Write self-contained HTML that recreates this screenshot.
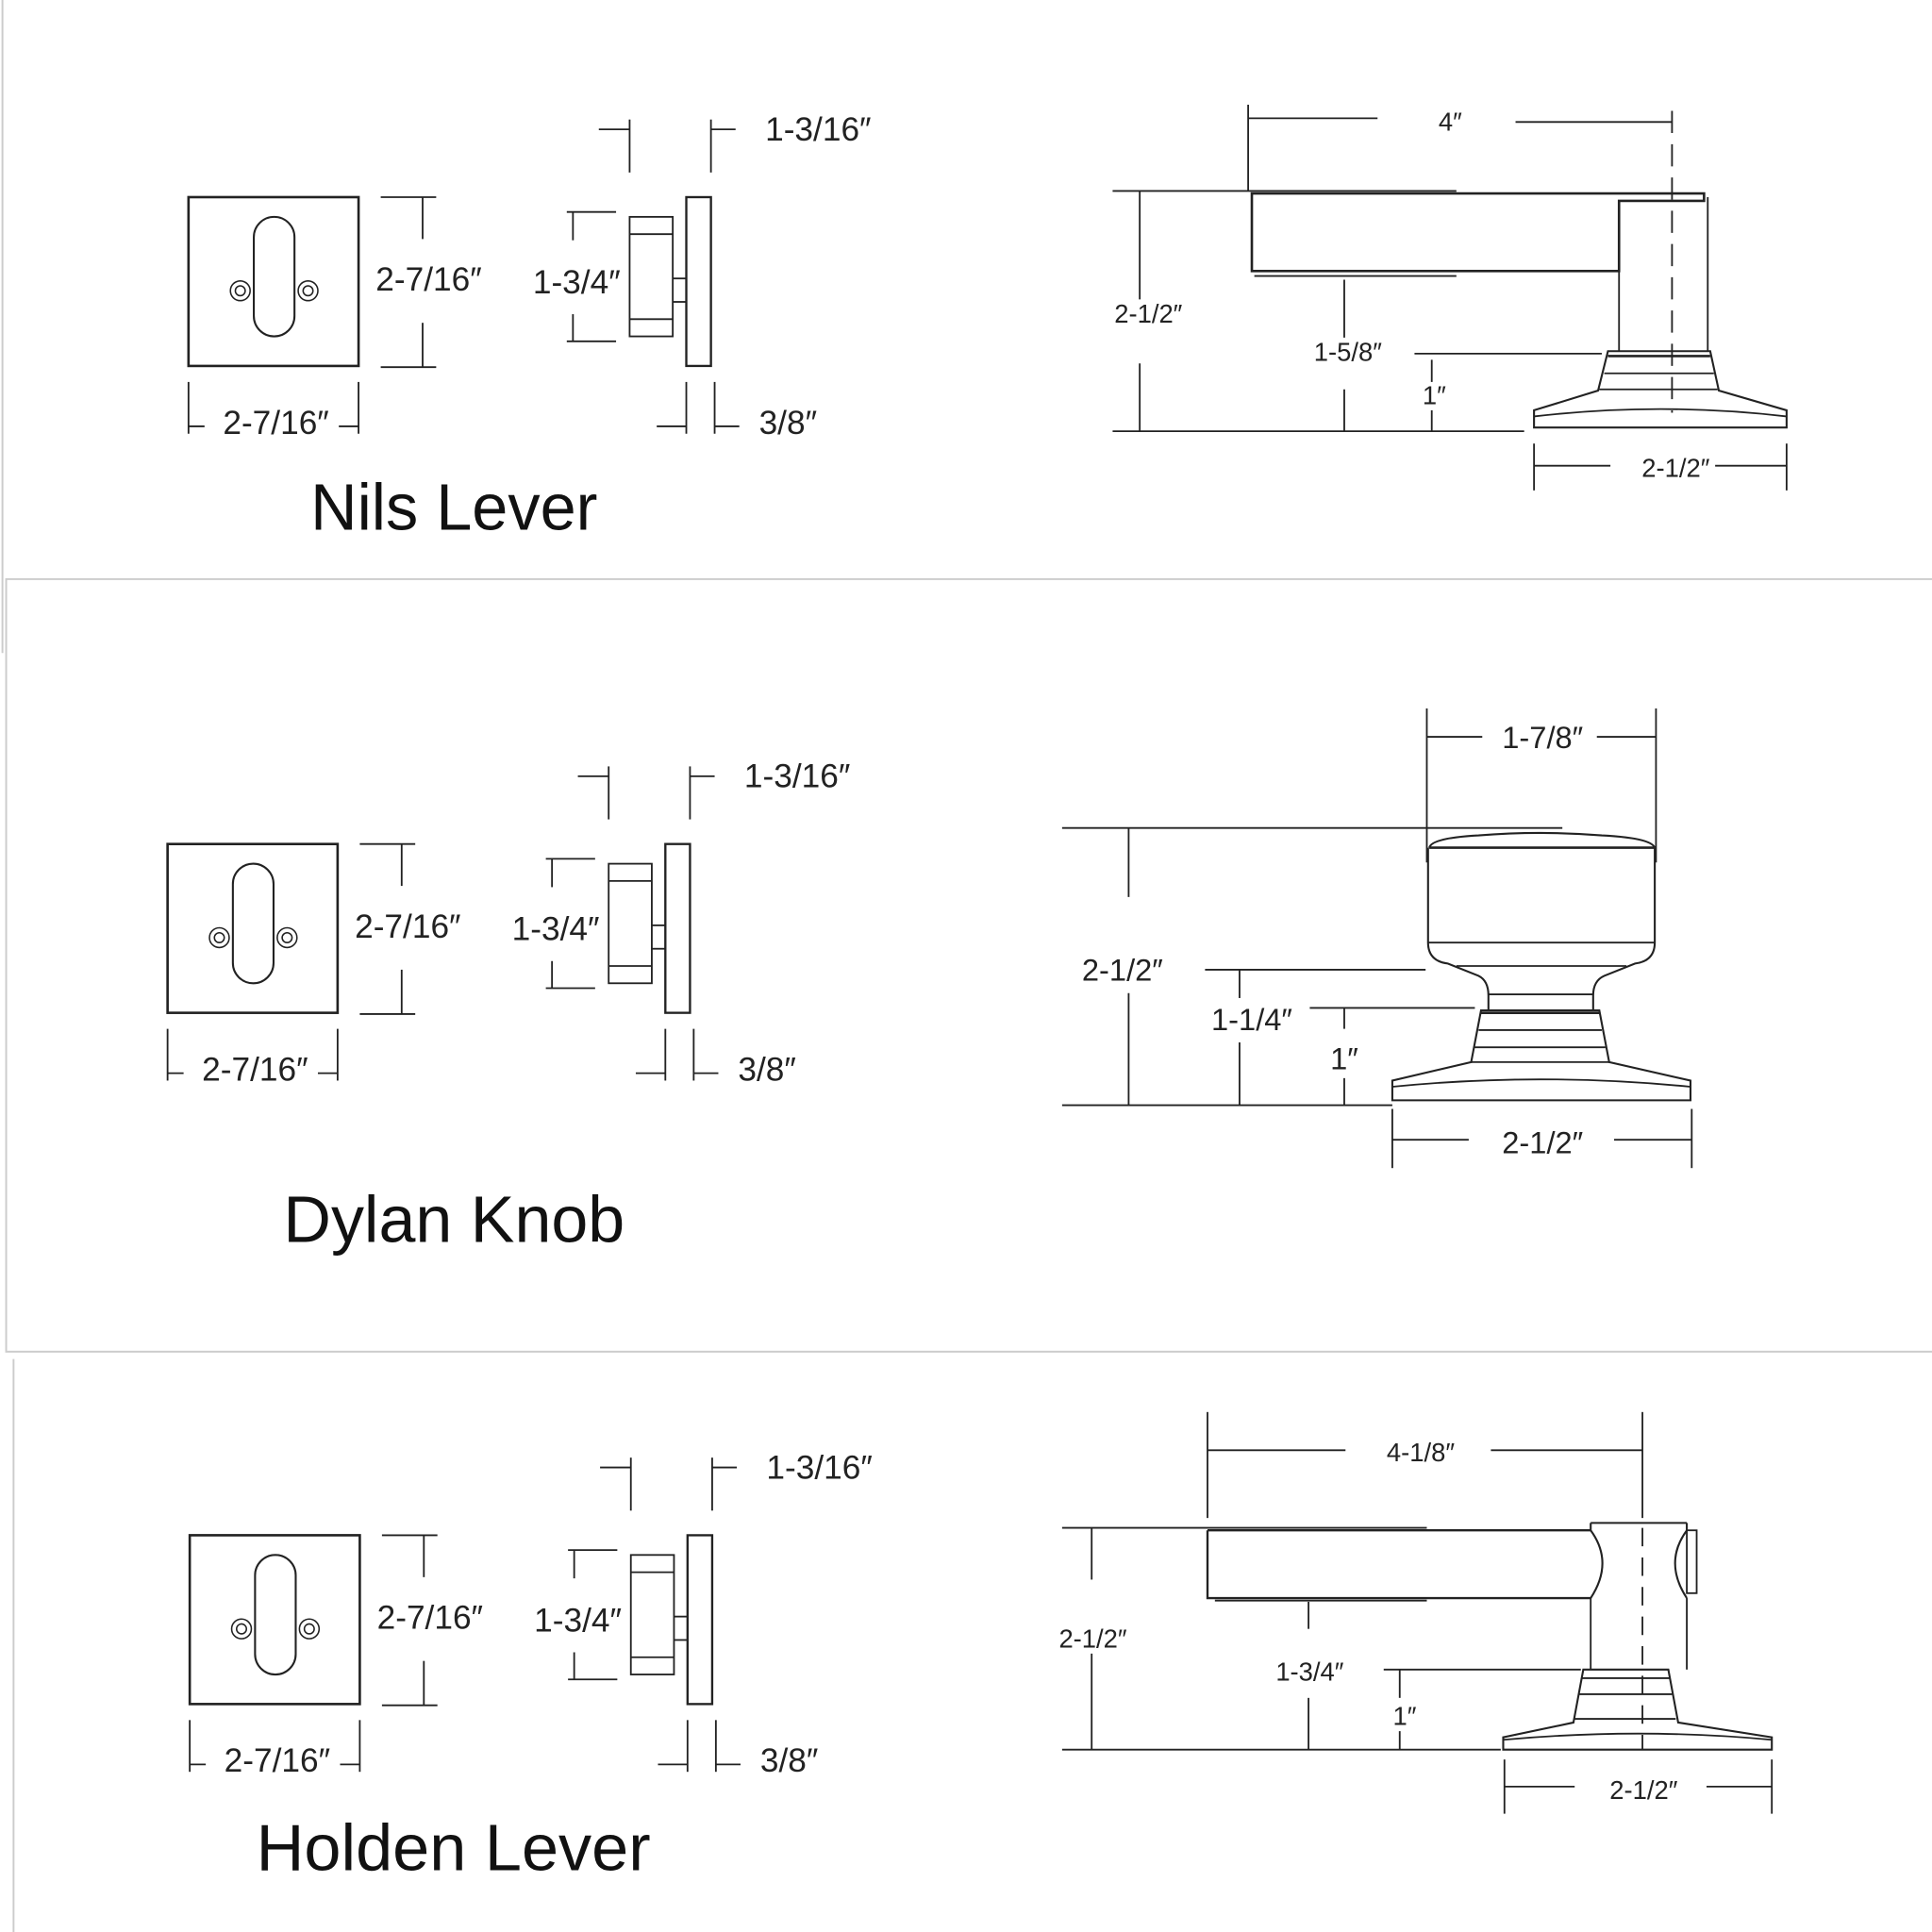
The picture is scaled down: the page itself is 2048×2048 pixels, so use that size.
<!DOCTYPE html>
<html><head><meta charset="utf-8"><style>
html,body{margin:0;padding:0;background:#fff;}
svg{display:block;}
text{font-family:"Liberation Sans Narrow","Liberation Sans",sans-serif;fill:#222;}
.t{font-family:"Liberation Sans",sans-serif;fill:#111;}
</style></head><body>
<svg width="2048" height="2048" viewBox="0 0 1568 1568" xmlns="http://www.w3.org/2000/svg">
<defs>
<g id="bp" fill="none" stroke="#222" stroke-width="1.6">
  <rect x="153" y="160" width="138" height="137" stroke-width="2"/>
  <rect x="206" y="176" width="33" height="97" rx="16.5"/>
  <circle cx="195" cy="236" r="8" stroke-width="1.2"/><circle cx="195" cy="236" r="4" stroke-width="1.2"/>
  <circle cx="250" cy="236" r="8" stroke-width="1.2"/><circle cx="250" cy="236" r="4" stroke-width="1.2"/>
  <g stroke-width="1.4">
  <line x1="309" y1="160" x2="354" y2="160"/><line x1="309" y1="298" x2="354" y2="298"/>
  <line x1="343" y1="160" x2="343" y2="194"/><line x1="343" y1="262" x2="343" y2="298"/>
  <line x1="153" y1="310" x2="153" y2="352"/><line x1="291" y1="310" x2="291" y2="352"/>
  <line x1="153" y1="346" x2="166" y2="346"/><line x1="275" y1="346" x2="291" y2="346"/>
  <rect x="557" y="160" width="20" height="137" stroke-width="1.8"/>
  <rect x="511" y="176" width="35" height="97"/>
  <line x1="511" y1="190" x2="546" y2="190"/><line x1="511" y1="259" x2="546" y2="259"/>
  <line x1="546" y1="226" x2="557" y2="226"/><line x1="546" y1="245" x2="557" y2="245"/>
  <line x1="511" y1="97" x2="511" y2="140"/><line x1="486" y1="105" x2="511" y2="105"/>
  <line x1="577" y1="97" x2="577" y2="140"/><line x1="577" y1="105" x2="597" y2="105"/>
  <line x1="465" y1="172" x2="465" y2="195"/><line x1="465" y1="255" x2="465" y2="277"/>
  <line x1="460" y1="172" x2="500" y2="172"/><line x1="460" y1="277" x2="500" y2="277"/>
  <line x1="557" y1="310" x2="557" y2="352"/><line x1="580" y1="310" x2="580" y2="352"/>
  <line x1="533" y1="346" x2="557" y2="346"/><line x1="580" y1="346" x2="600" y2="346"/>
  </g>
  <text x="348" y="236" font-size="27" text-anchor="middle" stroke="none">2-7/16″</text>
  <text x="224" y="352" font-size="27" text-anchor="middle" stroke="none">2-7/16″</text>
  <text x="468" y="238" font-size="27" text-anchor="middle" stroke="none">1-3/4″</text>
  <text x="621" y="114" font-size="27" stroke="none">1-3/16″</text>
  <text x="616" y="352" font-size="27" stroke="none">3/8″</text>
</g>
</defs>
<g fill="none" stroke="#ccc" stroke-width="1.5">
  <line x1="2" y1="0" x2="2" y2="530"/>
  <rect x="5" y="470" width="1570" height="627"/>
  <line x1="11" y1="1103" x2="11" y2="1568"/>
</g>

<use href="#bp"/>
<use href="#bp" transform="translate(-17,525)"/>
<use href="#bp" transform="translate(1,1086)"/>

<text class="t" x="252" y="430" font-size="53" textLength="233" lengthAdjust="spacingAndGlyphs">Nils Lever</text>
<text class="t" x="230" y="1008" font-size="53" textLength="277" lengthAdjust="spacingAndGlyphs">Dylan Knob</text>
<text class="t" x="208" y="1518" font-size="53" textLength="320" lengthAdjust="spacingAndGlyphs">Holden Lever</text>

<!-- Nils right -->
<g fill="none" stroke="#222" stroke-width="1.4">
  <line x1="1013" y1="85" x2="1013" y2="155"/>
  <line x1="1013" y1="96" x2="1118" y2="96"/><line x1="1230" y1="99" x2="1357" y2="99"/>
  <line x1="1357" y1="90" x2="1357" y2="335" stroke-dasharray="18,9"/>
  <line x1="903" y1="155" x2="1182" y2="155"/>
  <path d="M1016 157 H1383 V163 H1314 V220 H1016 Z" stroke-width="2"/>
  <line x1="1018" y1="224" x2="1182" y2="224"/>
  <line x1="1314" y1="220" x2="1314" y2="285"/><line x1="1386" y1="160" x2="1386" y2="285"/>
  <path d="M1305 285 H1388 L1395 317 L1450 333 V347 H1245 V333 L1297 317 Z" stroke-width="1.6"/>
  <line x1="1305" y1="289" x2="1388" y2="289" stroke-width="2"/>
  <line x1="1302" y1="303" x2="1391" y2="303"/><line x1="1298" y1="316" x2="1394" y2="316"/>
  <path d="M1245 338 Q1348 326 1450 338"/>
  <line x1="925" y1="155" x2="925" y2="243"/><line x1="925" y1="295" x2="925" y2="350"/>
  <line x1="903" y1="350" x2="1237" y2="350"/>
  <line x1="1091" y1="227" x2="1091" y2="274"/><line x1="1091" y1="316" x2="1091" y2="350"/>
  <line x1="1148" y1="287" x2="1300" y2="287"/>
  <line x1="1162" y1="292" x2="1162" y2="310"/><line x1="1162" y1="333" x2="1162" y2="350"/>
  <line x1="1245" y1="360" x2="1245" y2="398"/><line x1="1450" y1="360" x2="1450" y2="398"/>
  <line x1="1245" y1="378" x2="1307" y2="378"/><line x1="1392" y1="378" x2="1450" y2="378"/>
</g>
<g font-size="21" text-anchor="middle">
  <text x="1177" y="106">4″</text>
  <text x="932" y="262">2-1/2″</text>
  <text x="1094" y="293">1-5/8″</text>
  <text x="1164" y="328">1″</text>
  <text x="1360" y="387">2-1/2″</text>
</g>

<!-- Dylan right -->
<g fill="none" stroke="#222" stroke-width="1.4">
  <line x1="1158" y1="575" x2="1158" y2="700"/><line x1="1344" y1="575" x2="1344" y2="700"/>
  <line x1="1158" y1="598" x2="1203" y2="598"/><line x1="1296" y1="598" x2="1344" y2="598"/>
  <line x1="862" y1="672" x2="1268" y2="672"/>
  <path d="M1160 688 Q1162 680 1200 678 Q1250 674 1300 678 Q1340 680 1343 688" stroke-width="1.6"/>
  <line x1="1160" y1="688" x2="1343" y2="688" stroke-width="2"/>
  <path d="M1159 688 V765 Q1159 780 1175 782 L1200 792 Q1208 796 1208 808 V820 M1343 688 V765 Q1343 780 1327 782 L1302 792 Q1293 796 1293 808 V820" stroke-width="1.6"/>
  <line x1="1159" y1="765" x2="1343" y2="765"/><line x1="1182" y1="784" x2="1320" y2="784"/>
  <line x1="1208" y1="807" x2="1293" y2="807"/>
  <path d="M1202 820 H1298 L1306 862 L1372 877 V893 H1130 V877 L1194 862 Z" stroke-width="1.6"/>
  <line x1="1202" y1="822" x2="1298" y2="822" stroke-width="2"/>
  <line x1="1200" y1="836" x2="1300" y2="836"/><line x1="1197" y1="850" x2="1303" y2="850"/><line x1="1194" y1="862" x2="1306" y2="862"/>
  <path d="M1130 882 Q1250 870 1372 882"/>
  <line x1="916" y1="672" x2="916" y2="728"/><line x1="916" y1="806" x2="916" y2="897"/>
  <line x1="862" y1="897" x2="1130" y2="897"/>
  <line x1="978" y1="787" x2="1157" y2="787"/>
  <line x1="1006" y1="787" x2="1006" y2="810"/><line x1="1006" y1="846" x2="1006" y2="897"/>
  <line x1="1063" y1="818" x2="1197" y2="818"/>
  <line x1="1091" y1="818" x2="1091" y2="835"/><line x1="1091" y1="875" x2="1091" y2="897"/>
  <line x1="1130" y1="900" x2="1130" y2="948"/><line x1="1373" y1="900" x2="1373" y2="948"/>
  <line x1="1130" y1="925" x2="1192" y2="925"/><line x1="1310" y1="925" x2="1373" y2="925"/>
</g>
<g font-size="25" text-anchor="middle">
  <text x="1252" y="607">1-7/8″</text>
  <text x="911" y="796">2-1/2″</text>
  <text x="1016" y="836">1-1/4″</text>
  <text x="1091" y="868">1″</text>
  <text x="1252" y="936">2-1/2″</text>
</g>

<!-- Holden right -->
<g fill="none" stroke="#222" stroke-width="1.4">
  <line x1="980" y1="1146" x2="980" y2="1232"/><line x1="1333" y1="1146" x2="1333" y2="1232"/>
  <line x1="980" y1="1177" x2="1092" y2="1177"/><line x1="1210" y1="1177" x2="1333" y2="1177"/>
  <line x1="1333" y1="1240" x2="1333" y2="1420" stroke-dasharray="15,9"/>
  <line x1="862" y1="1240" x2="1158" y2="1240"/>
  <path d="M980 1242 H1291 M980 1242 V1297 H1291" stroke-width="1.8"/>
  <line x1="986" y1="1299" x2="1158" y2="1299"/>
  <path d="M1291 1236 H1369 M1291 1236 V1242 M1369 1236 V1242 M1291 1242 Q1310 1268 1291 1297 M1369 1242 Q1350 1268 1369 1297" stroke-width="1.6"/>
  <rect x="1369" y="1242" width="8" height="51"/>
  <line x1="1291" y1="1297" x2="1291" y2="1355"/><line x1="1369" y1="1297" x2="1369" y2="1355"/>
  <path d="M1285 1355 H1354 L1362 1398 L1438 1410 V1420 H1220 V1410 L1277 1398 Z" stroke-width="1.6"/>
  <line x1="1284" y1="1362" x2="1355" y2="1362"/><line x1="1282" y1="1375" x2="1357" y2="1375"/><line x1="1278" y1="1395" x2="1360" y2="1395"/>
  <path d="M1220 1412 Q1330 1402 1438 1412"/>
  <line x1="886" y1="1240" x2="886" y2="1282"/><line x1="886" y1="1342" x2="886" y2="1420"/>
  <line x1="862" y1="1420" x2="1218" y2="1420"/>
  <line x1="1062" y1="1300" x2="1062" y2="1322"/><line x1="1062" y1="1378" x2="1062" y2="1420"/>
  <line x1="1123" y1="1355" x2="1283" y2="1355"/>
  <line x1="1136" y1="1355" x2="1136" y2="1378"/><line x1="1136" y1="1405" x2="1136" y2="1420"/>
  <line x1="1221" y1="1428" x2="1221" y2="1472"/><line x1="1438" y1="1428" x2="1438" y2="1472"/>
  <line x1="1221" y1="1450" x2="1278" y2="1450"/><line x1="1385" y1="1450" x2="1438" y2="1450"/>
</g>
<g font-size="21" text-anchor="middle">
  <text x="1153" y="1186">4-1/8″</text>
  <text x="887" y="1337">2-1/2″</text>
  <text x="1063" y="1364">1-3/4″</text>
  <text x="1140" y="1400">1″</text>
  <text x="1334" y="1460">2-1/2″</text>
</g>
</svg>
</body></html>
